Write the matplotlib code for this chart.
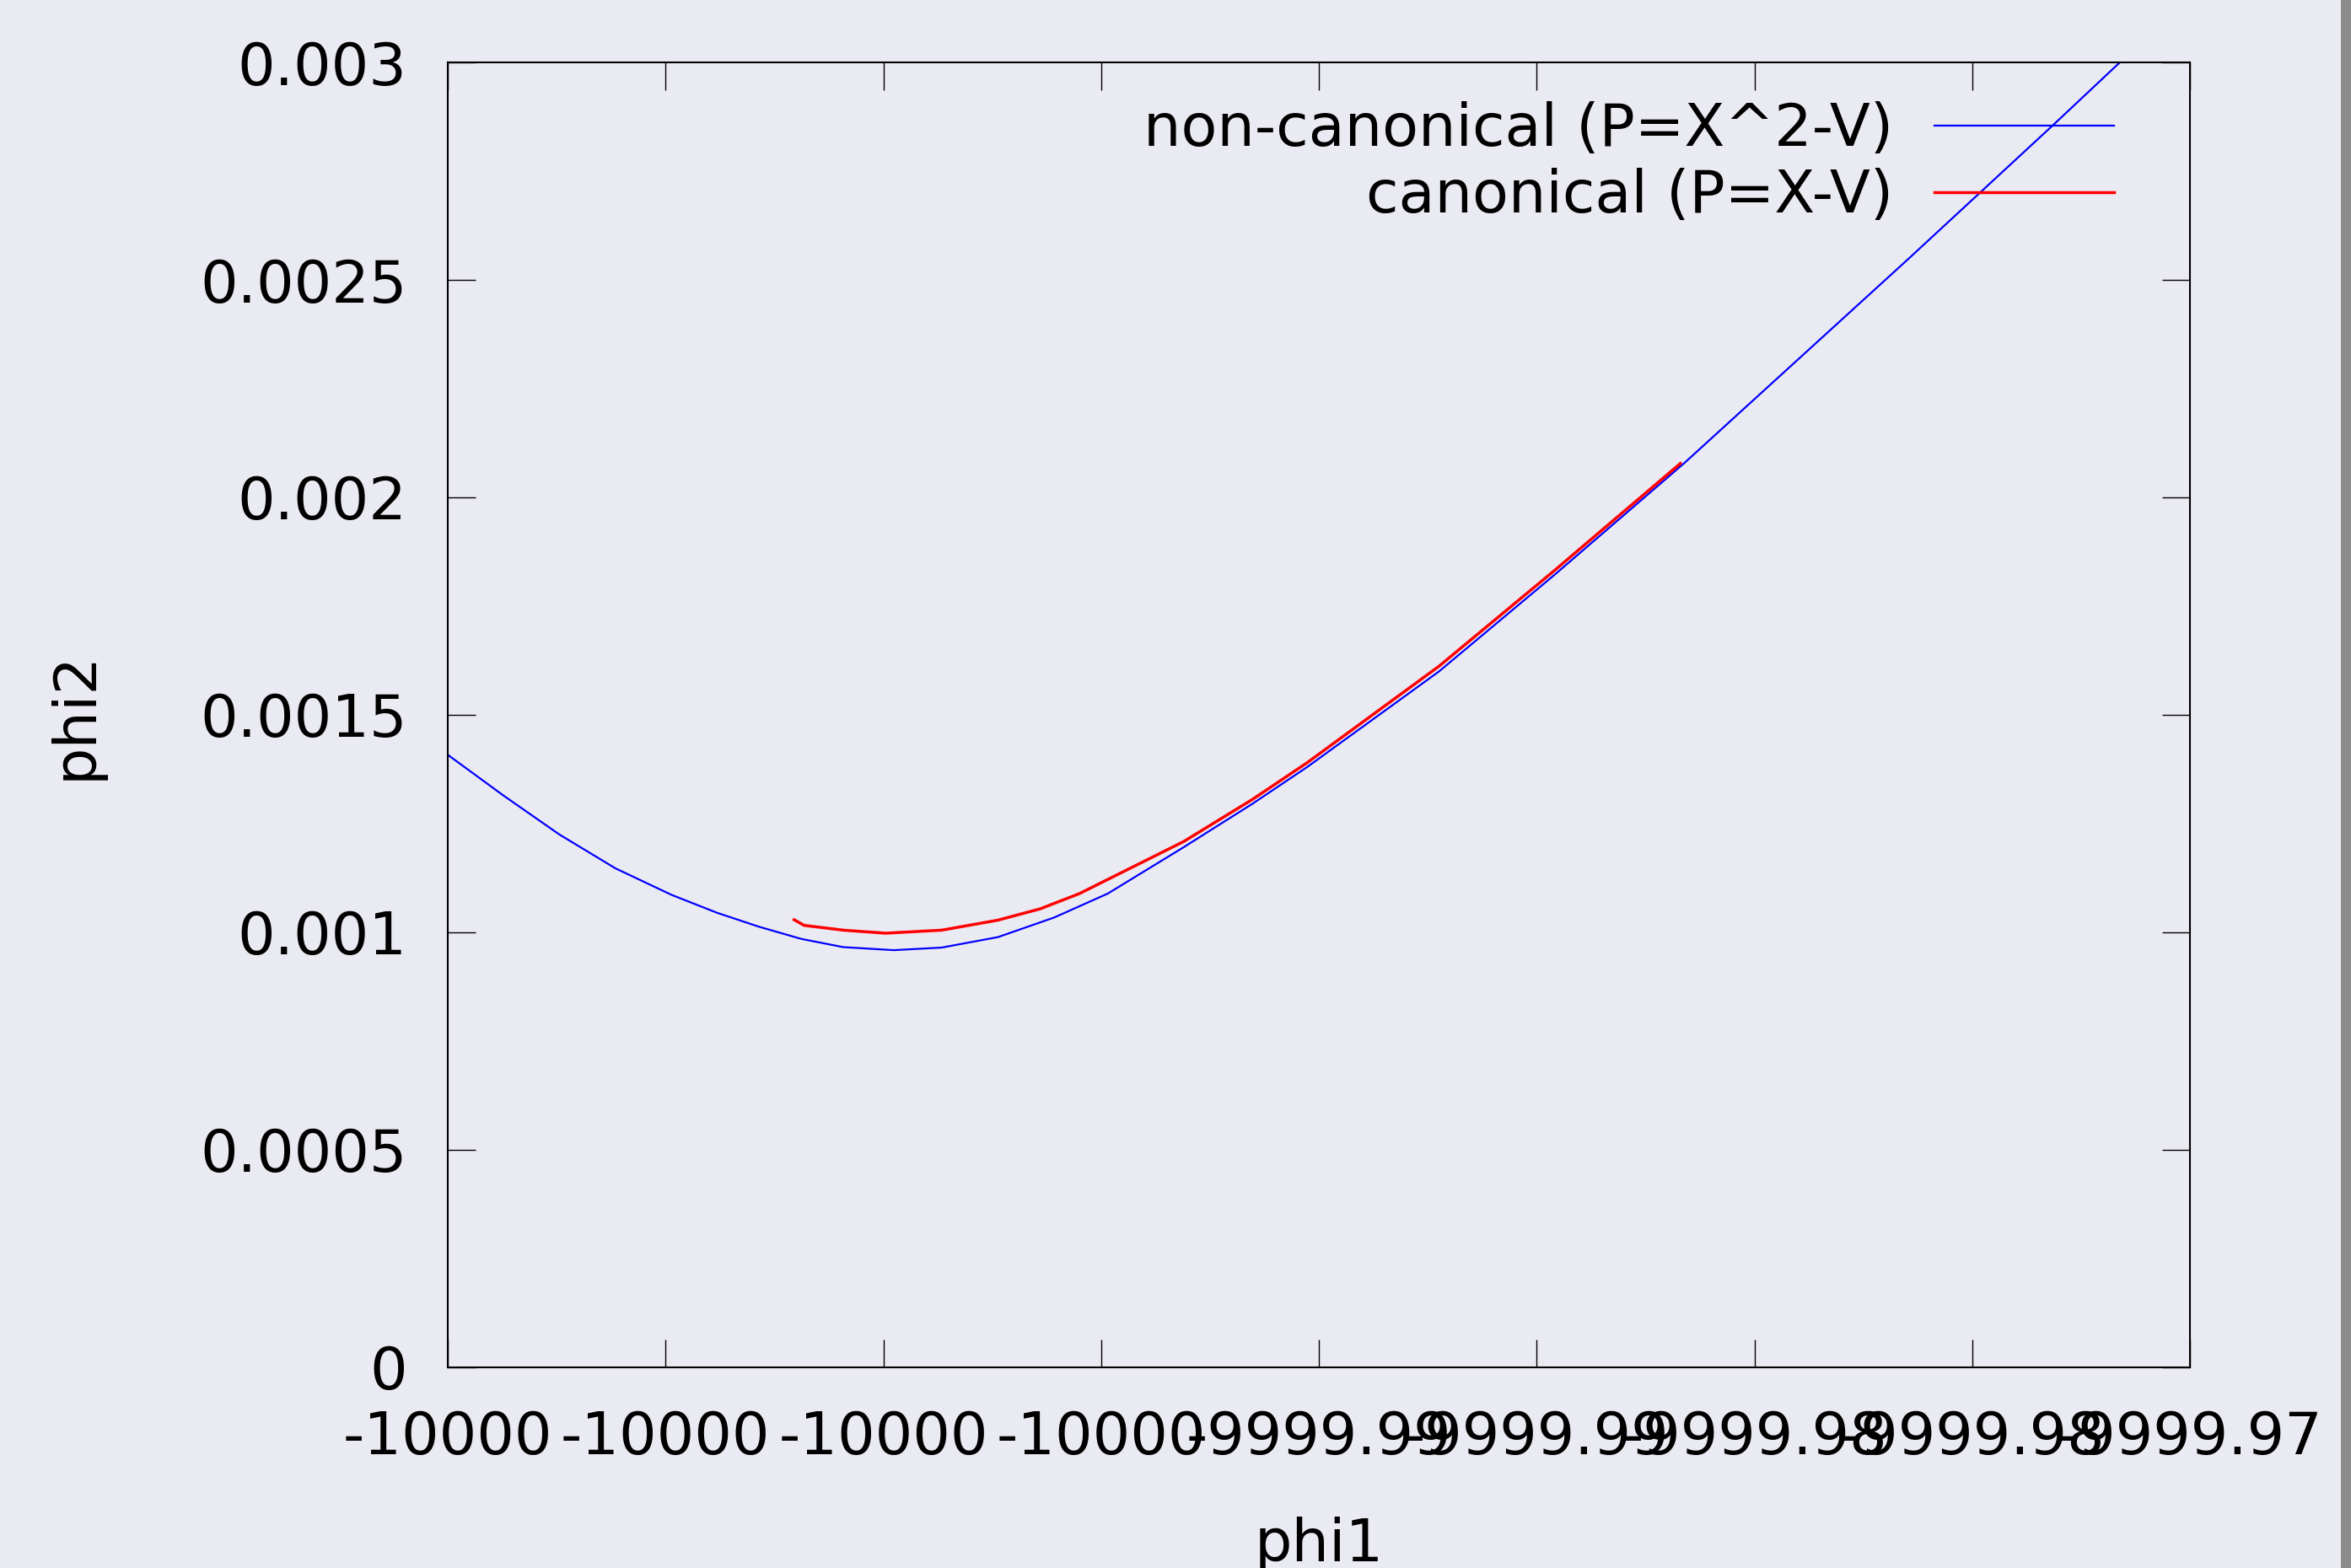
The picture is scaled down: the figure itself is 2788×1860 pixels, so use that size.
import matplotlib
matplotlib.use('Agg')
import matplotlib.pyplot as plt
from matplotlib.patches import Rectangle

# non-canonical (P=X^2-V)  -- blue
phi1_nc = [-10000.0100, -10000.00873, -10000.00744, -10000.00615, -10000.00486,
           -10000.00382, -10000.00286, -10000.00189, -10000.00092, -9999.99976,
           -9999.99866, -9999.99737, -9999.99608, -9999.99485, -9999.99310,
           -9999.99152, -9999.99027, -9999.98724, -9999.98459, -9999.98162,
           -9999.97649, -9999.97312, -9999.97161]
phi2_nc = [0.001408, 0.001315, 0.001225, 0.001147, 0.001086,
           0.001045, 0.001013, 0.000985, 0.000966, 0.000959,
           0.000965, 0.000989, 0.001034, 0.001089, 0.001196,
           0.001296, 0.001380, 0.001600, 0.001822, 0.002078,
           0.002546, 0.002858, 0.003000]

# canonical (P=X-V)  -- red
phi1_c = [-10000.00205, -10000.00182, -10000.00092, -9999.99995, -9999.99866,
          -9999.99737, -9999.99640, -9999.99550, -9999.99310, -9999.99152,
          -9999.99027, -9999.98724, -9999.98459, -9999.98170]
phi2_c = [0.001029, 0.001016, 0.001005, 0.000998, 0.001005,
          0.001028, 0.001054, 0.001089, 0.001209, 0.001306,
          0.001390, 0.001612, 0.001832, 0.002078]

xticks = [-10000.01, -10000.005, -10000.0, -9999.995, -9999.99,
          -9999.985, -9999.98, -9999.975, -9999.97]
xtick_labels = ['-10000', '-10000', '-10000', '-10000', '-9999.99',
                '-9999.99', '-9999.98', '-9999.98', '-9999.97']
yticks = [0, 0.0005, 0.001, 0.0015, 0.002, 0.0025, 0.003]
ytick_labels = ['0', '0.0005', '0.001', '0.0015', '0.002', '0.0025', '0.003']

bg = '#eaeaf2'
fs = 50.5

fig = plt.figure(figsize=(27.88, 18.60), dpi=100, facecolor=bg)
ax = fig.add_axes([0.1905, 0.1280, 0.7410, 0.8322], facecolor=bg)

ax.plot(phi1_nc, phi2_nc, color='blue', lw=1.6, label='non-canonical (P=X^2-V)')
ax.plot(phi1_c, phi2_c, color='red', lw=2.5, label='canonical (P=X-V)')

ax.set_xlim(-10000.01, -9999.97)
ax.set_ylim(0, 0.003)
ax.set_xticks(xticks)
ax.set_xticklabels(xtick_labels)
ax.set_yticks(yticks)
ax.set_yticklabels(ytick_labels)

ax.tick_params(direction='in', length=23.8, width=1.0, top=True, right=True,
               labelsize=fs, colors='black')
ax.tick_params(axis='y', pad=35)
ax.tick_params(axis='x', pad=36)
for s in ax.spines.values():
    s.set_linewidth(1.5)
    s.set_color('black')

ax.set_xlabel('phi1', fontsize=fs)
ax.set_ylabel('phi2', fontsize=fs)
ax.xaxis.label.set_va('center')
ax.xaxis.set_label_coords(0.5, -0.1363)
ax.yaxis.label.set_va('center')
ax.yaxis.set_label_coords(-0.2139, 0.5)

ax.legend(loc='upper right', bbox_to_anchor=(0.9787, 1), frameon=False,
          fontsize=fs, markerfirst=False, handlelength=3.04,
          handletextpad=0.69, labelspacing=0.17, borderaxespad=0,
          borderpad=0.66)

# grey edge at the right of the picture
fig.add_artist(Rectangle((2776 / 2788, 0), 12 / 2788, 1, transform=fig.transFigure,
                         color='#8c8c8c', lw=0))

fig.savefig('out.png', dpi=100, facecolor=bg)
